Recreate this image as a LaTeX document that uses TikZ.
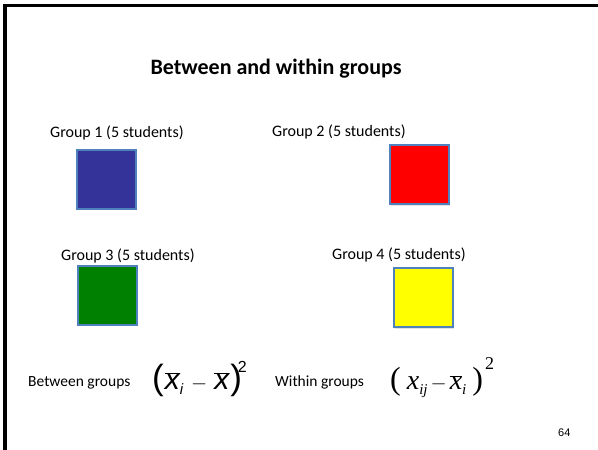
\documentclass[tikz,border=0pt]{standalone}
\usepackage{fontspec}
\setmainfont{Carlito}
\newfontfamily\arialf{Liberation Sans}
\newfontfamily\timesf{Liberation Serif}
\usetikzlibrary{positioning,shadows}
\definecolor{grpBlue}{RGB}{51,51,153}
\definecolor{grpRed}{RGB}{255,0,0}
\definecolor{grpGreen}{RGB}{0,128,0}
\definecolor{grpYellow}{RGB}{255,255,0}
\definecolor{edgeb}{RGB}{79,129,189}
\newcommand{\bigpar}[2]{{\fontsize{#1}{#1}\selectfont #2}}
\newcommand{\xb}{$\overline{\mbox{\itshape x}}$}
\newcommand{\lowsub}[1]{\raisebox{-5pt}{\fontsize{15}{16}\selectfont\itshape #1}}
\newcommand{\mminus}{{\fontsize{20}{22}\selectfont$-$}}

\begin{document}
\begin{tikzpicture}[
  x=1pt, y=1pt,
  title/.style={font=\fontsize{22}{26}\selectfont\bfseries, anchor=base, inner sep=0pt},
  grp/.style={font=\fontsize{16}{19}\selectfont, anchor=base west, inner sep=0pt},
  sq/.style={draw=edgeb, line width=2pt, minimum size=59pt, inner sep=0pt,
    drop shadow={opacity=0.22, shadow xshift=0.6pt, shadow yshift=-1.4pt}},
  lbl/.style={font=\fontsize{15.5}{18}\selectfont, anchor=base west, inner sep=0pt},
  frm/.style={anchor=base west, inner sep=0pt},
]
\useasboundingbox (0,0) rectangle (598,450);

% ---------- slide frame ----------
\coordinate (fbl) at (5,0);
\coordinate (ftr) at (598,444.5);
\draw[line width=3.2pt] (fbl) |- (ftr);

% ---------- title ----------
\node[title] (title) at (276,375) {Between and within groups};

% ---------- groups ----------
\node[grp] (lab1) at (50,312) {Group 1 (5 students)};
\node[grp] (lab2) at (272,313) {Group 2 (5 students)};
\node[grp] (lab3) at (61,189) {Group 3 (5 students)};
\node[grp] (lab4) at (332,190) {Group 4 (5 students)};

\node[sq, fill=grpBlue]   (g1) at (106.5,270.5) {};
\node[sq, fill=grpRed]    (g2) at (419.5,275) {};
\node[sq, fill=grpGreen]  (g3) at (107.5,154.5) {};
\node[sq, fill=grpYellow] (g4) at (423.5,152) {};

% ---------- sums of squares ----------
\node[lbl] (btw) at (28,63) {Between groups};
\node[frm, font=\arialf\fontsize{30}{34}\selectfont] (fb) at (152,60)
  {\bigpar{35}{(}\hspace{1pt}\xb\lowsub{i}\hspace{8pt}\mminus\hspace{7pt}\xb\hspace{1pt}\bigpar{35}{)}\hspace{-4pt}\raisebox{17pt}{\fontsize{16}{18}\selectfont 2}};
\node[lbl] (wth) at (275,63) {Within groups};
\node[frm, font=\timesf\fontsize{28}{32}\selectfont] (fw) at (390,60)
  {\bigpar{32}{(}\hspace{6pt}\textit{x}\lowsub{ij}\hspace{3pt}\mminus\hspace{3pt}\xb\lowsub{i}\hspace{6pt}\bigpar{32}{)}\hspace{2pt}\raisebox{20pt}{\fontsize{18}{20}\selectfont 2}};

\node[frm, font=\arialf\fontsize{11}{13}\selectfont] (page) at (558,13) {64};
\end{tikzpicture}
\end{document}
